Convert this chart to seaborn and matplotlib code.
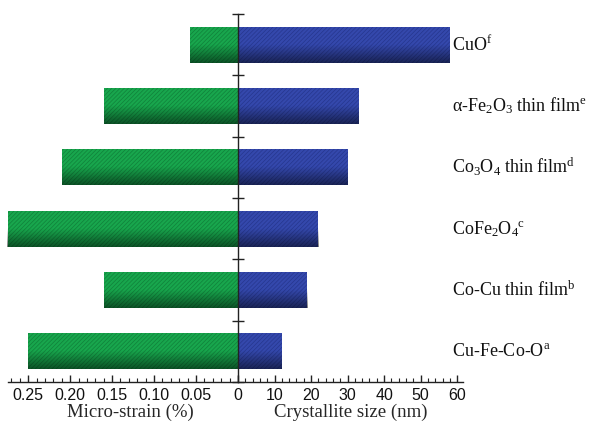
import numpy as np
import pandas as pd
import matplotlib
matplotlib.use("Agg")
import matplotlib.pyplot as plt
from matplotlib.colors import LinearSegmentedColormap
import seaborn as sns

sns.set_style("white")
plt.rcParams["font.family"] = ["Liberation Sans", "DejaVu Sans"]
plt.rcParams["mathtext.fontset"] = "custom"
plt.rcParams["mathtext.rm"] = "Liberation Serif"
plt.rcParams["mathtext.it"] = "Liberation Serif:italic"
plt.rcParams["hatch.linewidth"] = 0.5

# data
samples = ["CuO", "a-Fe2O3", "Co3O4", "CoFe2O4", "Co-Cu", "Cu-Fe-Co-O"]
labels = [r"CuO$^{\mathrm{f}}$",
          r"$\mathrm{\alpha}$-Fe$_{2}$O$_{3}$ thin film$^{\mathrm{e}}$",
          r"Co$_{3}$O$_{4}$ thin film$^{\mathrm{d}}$",
          r"CoFe$_{2}$O$_{4}$$^{\mathrm{c}}$",
          r"Co-Cu thin film$^{\mathrm{b}}$",
          r"Cu-Fe-Co-O$^{\mathrm{a}}$"]
strain = [0.057, 0.16, 0.21, 0.275, 0.16, 0.25]
size_nm = [58, 33, 30, 22, 19, 12]
strain_ticks = [0.25, 0.20, 0.15, 0.10, 0.05, 0]
strain_ticklabels = ["0.25", "0.20", "0.15", "0.10", "0.05", ""]
size_ticks = [0, 10, 20, 30, 40, 50, 60]

df = pd.DataFrame({"sample": samples, "strain": strain, "size": size_nm})

green = "#18a64d"
blue = "#3448ac"

fig = plt.figure(figsize=(5.89, 4.22), dpi=100)
ax1 = fig.add_axes([8 / 589, 40 / 422, 230 / 589, 368 / 422])
ax2 = fig.add_axes([238 / 589, 40 / 422, 225 / 589, 368 / 422], sharey=ax1)

sns.barplot(data=df, x="strain", y="sample", orient="h", color=green,
            width=0.59, ax=ax1, saturation=1)
sns.barplot(data=df, x="size", y="sample", orient="h", color=blue,
            width=0.59, ax=ax2, saturation=1)

# darker towards the bottom of each bar
shade = LinearSegmentedColormap.from_list(
    "shade", [(0.0, (0, 0, 0, 0)), (0.5, (0, 0, 0, 0)), (1.0, (0, 0, 0, 0.5))])
grad = np.linspace(0, 1, 64).reshape(-1, 1)


def style_bars(ax, hatch_col):
    for p in list(ax.patches):
        p.set_hatch("////////")
        p.set_edgecolor(hatch_col)
        p.set_linewidth(0)
        x0, y0 = p.get_x(), p.get_y()
        w, h = p.get_width(), p.get_height()
        # y axis is inverted: y0 + h is the lower edge on screen
        im = ax.imshow(grad, cmap=shade, aspect="auto", origin="lower",
                       extent=(x0, x0 + w, y0, y0 + h),
                       zorder=p.get_zorder() + 0.1, interpolation="bilinear")
        im.set_clip_path(p)


style_bars(ax1, "#10803a")
style_bars(ax2, "#26368e")

ax1.set_xlim(0.274, 0)
ax2.set_xlim(0, 61.6)
ax1.set_ylim(5.5, -0.5)

bounds = np.arange(-0.5, 6.0, 1.0)
for ax in (ax1, ax2):
    for s in ["top", "right", "left"]:
        ax.spines[s].set_visible(False)
    ax.spines["bottom"].set_linewidth(1.0)
    ax.spines["bottom"].set_color("#222222")
    ax.set_ylabel("")
    ax.tick_params(axis="x", which="major", direction="in", length=5,
                   width=1, labelsize=11.5, pad=4, bottom=True, color="#222222",
                   labelcolor="#111111")
    ax.tick_params(axis="x", which="minor", direction="in", length=3,
                   width=0.8, bottom=True, color="#222222")

ax2.spines["left"].set_visible(True)
ax2.spines["left"].set_linewidth(1.0)
ax2.spines["left"].set_color("#222222")
ax2.set_yticks(bounds)
ax2.set_yticklabels([""] * len(bounds))
ax2.tick_params(axis="y", direction="inout", length=8, width=1, left=True,
                color="#222222")
ax1.tick_params(axis="y", left=False, labelleft=False)

ax1.set_xticks(strain_ticks)
ax1.set_xticklabels(strain_ticklabels)
ax1.set_xticks(np.arange(0, 0.271, 0.01), minor=True)
ax2.set_xticks(size_ticks)
ax2.set_xticks(np.arange(0, 61, 2), minor=True)

ax1.set_xlabel("Micro-strain (%)", family="Liberation Serif", fontsize=13.5)
ax2.set_xlabel("Crystallite size (nm)", family="Liberation Serif", fontsize=13.5)
for ax, xc in ((ax1, 0.53), (ax2, 0.5)):
    ax.xaxis.label.set_va("bottom")
    ax.xaxis.set_label_coords(xc, -0.106)

for i, lab in enumerate(labels):
    ax2.text(0.951, i, lab, transform=ax2.get_yaxis_transform(),
             ha="left", va="center", fontsize=13, family="Liberation Serif",
             color="#111111", clip_on=False)

fig.savefig("out.png", dpi=100)
